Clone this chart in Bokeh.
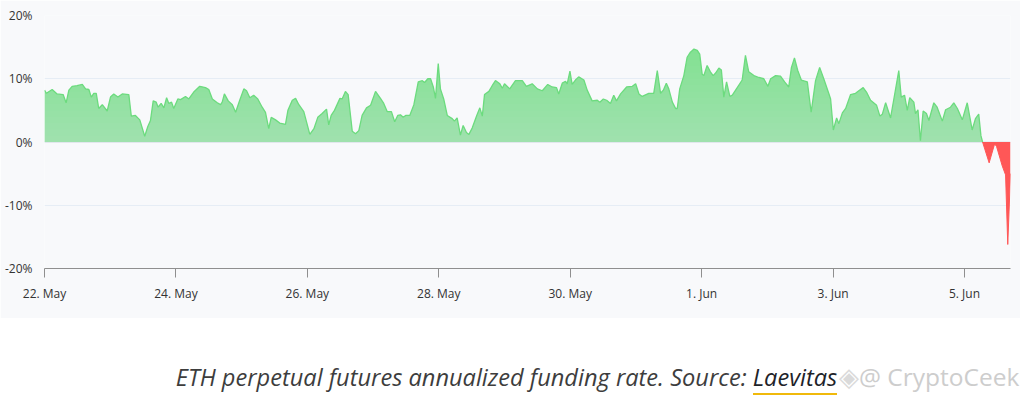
import numpy as np
from bokeh.plotting import figure
from bokeh.models import Range1d, FixedTicker, Span, Div, PrintfTickFormatter
from bokeh.layouts import column
from bokeh.embed import file_html
from bokeh.resources import INLINE

# hours since 22 May 00:00
hours = [0.0, 0.7, 2.8, 4.6, 6.8, 7.9, 8.9, 10.1, 11.9, 13.8, 15.0, 16.2, 17.1, 18.0, 18.9, 19.8,
         21.1, 22.9, 24.1, 25.3, 26.8, 28.4, 30.8, 31.7, 33.2, 34.8, 36.6, 37.7, 38.7, 39.7, 40.8,
         41.5, 42.6, 43.6, 44.6, 45.4, 46.4, 47.2, 48.7, 49.7, 51.5, 52.7, 54.5, 56.7, 58.8, 60.0,
         61.3, 63.1, 64.3, 64.9, 65.7, 67.1, 68.6, 69.8, 71.3, 72.8, 73.8, 75.0, 76.4, 77.9, 79.5,
         80.7, 81.9, 82.8, 84.4, 85.9, 88.0, 88.9, 90.5, 91.7, 92.9, 94.7, 96.9, 98.4, 99.8, 101.4,
         103.0, 103.8, 104.7, 105.9, 107.9, 108.7, 109.9, 110.9, 112.4, 113.6, 114.8, 116.0, 117.6,
         119.1, 120.9, 122.7, 123.9, 125.2, 126.7, 127.9, 129.0, 130.0, 131.0, 131.9, 133.4, 134.9,
         136.5, 138.0, 138.8, 140.0, 141.0, 142.0, 142.8, 143.8, 144.6, 145.8, 147.1, 148.9, 149.7,
         150.7, 151.9, 152.9, 154.1, 155.0, 156.2, 157.8, 159.0, 159.9, 160.7, 162.3, 163.5, 164.7,
         166.3, 167.2, 168.0, 169.9, 172.0, 174.5, 176.0, 178.1, 180.0, 181.8, 183.8, 185.4, 187.0,
         187.8, 189.1, 190.3, 190.9, 191.9, 192.7, 193.9, 195.1, 197.0, 198.2, 200.0, 201.9, 202.8,
         204.1, 205.3, 206.7, 207.9, 208.9, 210.4, 212.6, 214.7, 215.9, 217.1, 218.3, 220.7, 222.5,
         223.8, 225.0, 226.0, 227.1, 228.0, 229.3, 230.5, 231.1, 232.0, 233.5, 234.7, 235.9, 237.2,
         238.4, 239.3, 240.2, 240.8, 242.0, 243.2, 244.2, 245.1, 246.3, 247.2, 248.1, 249.1, 250.3,
         251.2, 252.7, 254.8, 256.0, 257.2, 259.1, 260.9, 262.7, 264.2, 265.2, 267.0, 268.8, 270.3,
         271.8, 272.8, 273.9, 275.1, 276.4, 278.6, 280.0, 281.6, 283.1, 284.6, 286.5, 287.1, 288.1,
         289.3, 290.1, 291.4, 292.6, 294.4, 296.2, 297.4, 299.0, 300.2, 301.7, 303.9, 305.1, 306.0,
         307.2, 309.0, 310.2, 312.0, 312.9, 314.1, 315.1, 316.0, 317.5, 318.1, 319.0, 319.9, 320.9,
         322.1, 323.0, 324.8, 326.0, 327.9, 329.1, 330.9, 332.1, 333.4, 335.2, 337.0, 338.8, 340.0,
         341.2, 342.0, 342.6, 345.0, 347.0, 347.7, 349.8, 351.0, 351.8, 352.8]

# annualized funding rate, %
rate = [8.2, 7.7, 8.3, 7.6, 7.5, 6.2, 8.2, 8.8, 8.9, 9.1, 8.4, 8.3, 7.1, 7.7, 7.7, 5.3,
        5.9, 4.9, 7.1, 7.6, 7.1, 7.6, 7.5, 4.1, 4.2, 3.5, 0.9, 2.4, 3.4, 6.5, 6.3,
        5.5, 6.1, 5.4, 7.0, 6.1, 6.3, 5.3, 6.8, 6.7, 7.2, 6.8, 7.9, 8.8, 8.6, 8.3,
        6.8, 6.2, 5.9, 6.3, 7.6, 6.5, 5.9, 4.7, 6.6, 8.4, 8.1, 7.0, 7.4, 6.8, 5.5,
        4.7, 2.1, 3.9, 3.5, 3.0, 2.8, 5.0, 6.6, 6.9, 5.9, 4.8, 1.2, 2.1, 3.9, 4.5,
        5.2, 2.7, 4.2, 5.0, 6.9, 6.8, 8.0, 7.5, 1.7, 1.3, 1.8, 4.2, 5.4,
        5.8, 8.0, 6.9, 6.1, 4.8, 4.8, 3.2, 4.2, 4.3, 3.9, 4.2, 4.2, 5.9,
        9.5, 9.7, 9.4, 10.0, 10.0, 8.7, 6.9, 12.4, 8.4, 6.8, 4.2, 3.7, 3.3,
        3.8, 1.1, 2.6, 1.5, 1.2, 2.2, 4.1, 5.4, 4.1, 7.5, 8.0, 8.9, 9.7,
        9.2, 8.5, 9.2, 8.4, 9.7, 9.7, 8.8, 9.2, 8.4, 8.1, 9.1, 8.7, 8.6,
        7.6, 9.3, 9.6, 9.2, 11.2, 9.1, 9.8, 10.3, 9.8, 8.2, 6.5, 6.6, 6.3,
        6.8, 6.6, 6.1, 7.4, 6.5, 7.6, 8.7, 8.8, 9.2, 7.6, 7.2, 7.7, 7.7,
        11.3, 7.7, 8.2, 9.3, 8.4, 6.3, 5.3, 5.3, 8.4, 10.5, 13.4, 14.2, 14.7,
        14.5, 13.9, 10.7, 10.5, 12.1, 11.1, 10.5, 10.9, 11.7, 11.4, 7.1, 9.5, 7.2,
        7.4, 8.4, 9.8, 13.7, 11.1, 10.5, 10.2, 10.0, 8.8, 10.0, 10.5, 10.4, 9.5,
        8.7, 11.8, 13.3, 11.3, 9.8, 9.5, 4.7, 9.7, 11.8, 10.0, 7.6, 6.8, 1.9,
        3.8, 2.9, 4.6, 5.3, 7.5, 7.7, 8.1, 8.6, 7.9, 6.6, 5.8, 4.1, 4.4,
        6.2, 3.8, 6.8, 11.3, 7.1, 7.4, 5.0, 7.0, 6.3, 4.5, 5.1, 0.2, 4.9,
        4.5, 3.4, 6.2, 5.5, 3.3, 5.1, 5.5, 6.2, 5.3, 3.5, 6.2, 1.9, 3.7,
        4.4, 1.0, 0.0, -3.3, -0.3, -0.7, -3.8, -5.2, -16.2, -5.0]

tick_days = [0, 2, 4, 6, 8, 10, 12, 14]
tick_labels = ["22. May", "24. May", "26. May", "28. May", "30. May", "1. Jun", "3. Jun", "5. Jun"]
y_ticks = [-20, -10, 0, 10, 20]

BG = "#f8f9fb"
GREEN = "#80e190"
GREEN_LINE = "#6cdb7e"
RED = "#ff5757"

days = np.array(hours) / 24.0
v = np.array(rate)
pos = np.maximum(v, 0)
neg = np.minimum(v, 0)
k = int(np.where(v == 0.0)[0][0])

p = figure(width=1020, height=318, x_range=Range1d(0, days[-1]), y_range=Range1d(-20, 20),
           output_backend="svg", toolbar_location=None,
           min_border_left=44, min_border_right=10, min_border_top=15, min_border_bottom=50,
           background_fill_color=BG, border_fill_color=BG, outline_line_color=None)

xa = p.xaxis[0]
xa.ticker = FixedTicker(ticks=tick_days)
xa.major_label_overrides = {d: l for d, l in zip(tick_days, tick_labels)}
xa.axis_line_color = "#8f8f8f"
xa.major_tick_line_color = "#8f8f8f"
xa.major_tick_in = 0
xa.major_tick_out = 9
xa.minor_tick_line_color = None
xa.major_label_standoff = 7
xa.major_label_text_font = "Open Sans"
xa.major_label_text_font_size = "12px"
xa.major_label_text_color = "#333333"

ya = p.yaxis[0]
ya.ticker = FixedTicker(ticks=y_ticks)
ya.formatter = PrintfTickFormatter(format="%d%%")
ya.axis_line_color = None
ya.major_tick_line_color = None
ya.minor_tick_line_color = None
ya.major_tick_in = 0
ya.major_tick_out = 0
ya.major_label_standoff = 12
ya.major_label_text_font = "Open Sans"
ya.major_label_text_font_size = "12px"
ya.major_label_text_color = "#333333"

p.xgrid.grid_line_color = None
p.ygrid.ticker = FixedTicker(ticks=y_ticks)
p.ygrid.grid_line_color = "#e6edf5"

p.add_layout(Span(location=0, dimension="width", line_color="#dde1e6", line_width=1, level="underlay"))

# green area with vertical gradient (overlay of background-coloured translucent bands)
p.varea(x=days, y1=0, y2=pos, fill_color=GREEN, fill_alpha=1.0)
levels = np.arange(1, 16)
p.quad(left=days[0], right=days[-1], bottom=0, top=levels, fill_color=BG, fill_alpha=0.024,
       line_color=None)
p.varea(x=days[k:], y1=neg[k:], y2=0, fill_color=RED, fill_alpha=1.0)
p.line(days[:k + 1], v[:k + 1], line_color=GREEN_LINE, line_width=1.3)
p.line(days[k:], v[k:], line_color=RED, line_width=1.0)

caption = Div(width=1020, height=82, text="""
<div style="position:relative;width:1020px;height:82px;background:#ffffff;">
  <div style="position:absolute;left:0;top:40px;width:1003px;text-align:center;font-family:'Open Sans';
       font-style:italic;font-size:23.6px;line-height:28px;color:#3d3d3d;white-space:nowrap;">
    ETH perpetual futures annualized funding rate. Source:
    <span style="color:#1e2329;border-bottom:2px solid #f0b90b;">Laevitas</span></div>
  <div style="position:absolute;left:834px;top:39px;font-family:'Open Sans';font-size:26px;
       line-height:28px;color:#dadada;white-space:nowrap;">&#9672;</div>
  <div style="position:absolute;left:854px;top:40px;font-family:'Open Sans';font-size:24.5px;
       line-height:28px;color:#cdcdcd;white-space:nowrap;">@ CryptoCeek</div>
</div>""")

layout = column(p, caption, spacing=0)
open("out.html", "w").write(file_html(layout, INLINE))
